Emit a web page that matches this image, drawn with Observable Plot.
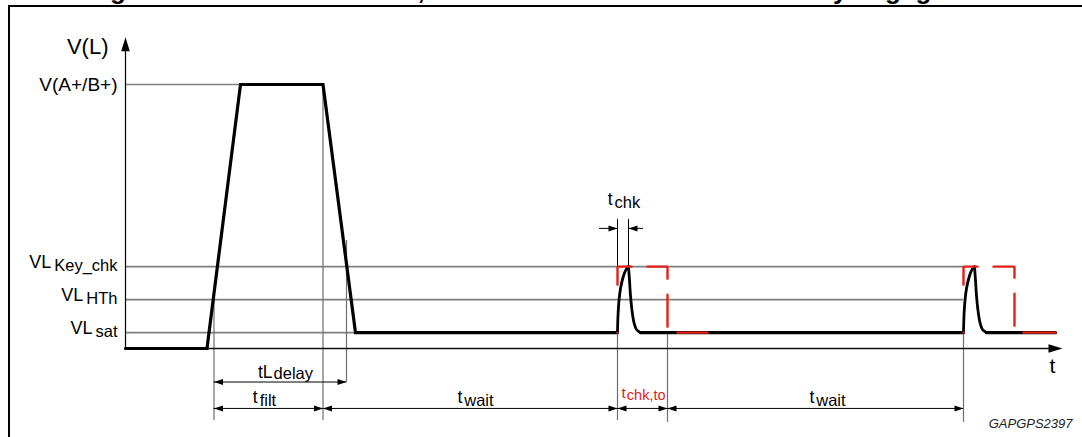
<!DOCTYPE html>
<html>
<head>
<meta charset="utf-8">
<script src="https://cdn.jsdelivr.net/npm/d3@7"></script>
<script src="https://cdn.jsdelivr.net/npm/@observablehq/plot@0.6"></script>
<style>
html, body { margin: 0; padding: 0; background: #fff; width: 1082px; height: 437px; overflow: hidden; }
#wrap { position: relative; width: 1082px; height: 437px; overflow: hidden; }
#title { position: absolute; left: 87px; top: -23px; font: bold 26px "Liberation Sans", Arial, sans-serif; line-height: 26px; white-space: nowrap; color: #000; }
#chart { position: absolute; left: 0; top: 0; }
#chart svg { display: block; }
#frame { position: absolute; left: 7.5px; top: 4.5px; width: 1200px; height: 1000px; border-left: 2.5px solid #000; border-top: 2.5px solid #000; pointer-events: none; }
</style>
</head>
<body>
<div id="wrap">
  <div id="title">Figure 14. L first activation, then L detection and check at key engagement</div>
  <div id="chart"></div>
  <div id="frame"></div>
</div>
<script>
// ---- data (time t in arbitrary units, voltage V in arbitrary units) ----
const levelNames  = ["V(A+/B+)", "VL|Key_chk", "VL|HTh", "VL|sat"];
const levelValues = [10, 3.1, 1.85, 0.6];
const levelEnds   = [19.75, 83.8, 83.8, 23.0];

// main waveform, piecewise linear, split in segments
const waveSeg = ["a", "a", "a", "a", "a", "a", "b", "b", "c", "c"];
const waveT   = [0, 8.15, 11.5, 19.75, 23.0, 49.2, 51.5, 83.8, 86.1, 93.0];
const waveV   = [0, 0, 10, 10, 0.6, 0.6, 0.6, 0.6, 0.6, 0.6];

// key-check pulses (rise = first 7 points, decay = last 7 points)
const pulse1T = [49.2, 49.25, 49.35, 49.5, 49.75, 50.0, 50.3, 50.4, 50.5, 50.65, 50.85, 51.1, 51.5];
const pulse2T = [83.8, 83.85, 83.95, 84.1, 84.35, 84.6, 84.9, 85.0, 85.1, 85.25, 85.45, 85.7, 86.1];
const pulseV  = [0.6, 1.25, 1.82, 2.27, 2.69, 2.95, 3.1, 2.58, 2.0, 1.44, 0.98, 0.72, 0.6];

// red dashed timeout envelope
const timeout1T = [49.2, 49.2, 54.2, 54.2, 58.2];
const timeout2T = [83.8, 83.8, 88.9, 88.9, 93.0];
const timeoutV  = [0.6, 3.1, 3.1, 0.6, 0.6];

// vertical marker lines
const markerT      = [8.85, 19.75, 22.1, 49.2, 54.2, 83.8];
const markerTop    = [1.85, 10, 4.09, 0.6, 0.6, 0.6];
const markerBottom = [-2.73, -2.73, -1.29, -2.73, -2.8, -2.8];

// t_chk extension lines
const chkExtT = [49.2, 50.3];
const chkExtV = [3.1, 4.89];

// dimension arrows
const dimNames  = ["tL|delay", "t|filt", "t|wait", "t|chk,to", "t|wait"];
const dimFrom   = [8.85, 8.85, 19.75, 49.2, 54.2];
const dimTo     = [22.1, 19.75, 49.2, 54.2, 83.8];
const dimRow    = [-1.27, -2.27, -2.27, -2.27, -2.27];
const dimLabelT = [16.0, 13.9, 35.0, 51.8, 70.2];
const dimLabelV = [-1.1, -2.05, -2.05, -1.89, -2.08];

// t_chk (inward arrows)
const chkName   = "t|chk";
const chkRow    = 4.55;
const chkFrom   = [47.4, 51.8];
const chkTo     = [49.2, 50.3];
const chkLabelT = 49.85;
const chkLabelV = 5.42;

// axes
const tAxisEnd = 93.7;
const vAxisEnd = 11.79;

// other labels
const noteText = ["V(L)", "t", "GAPGPS2397"];
const noteT    = [-1.7, 92.7, 94.7];
const noteV    = [11.17, -0.91, -3.03];
const levelLabelT = -0.8;

// ---- tables ----
const levels = levelNames.map((name, i) => ({name, v: levelValues[i], end: levelEnds[i]}));
const wave = waveT.map((t, i) => ({t, v: waveV[i], seg: waveSeg[i]}));
const pulses = [];
[[pulse1T, "p1"], [pulse2T, "p2"]].forEach(([T, id]) => {
  T.forEach((t, i) => {
    if (i <= 6) pulses.push({t, v: pulseV[i], id: id + "r"});
    if (i >= 6) pulses.push({t, v: pulseV[i], id: id + "d"});
  });
});
const timeouts = [
  ...timeout1T.map((t, i) => ({t, v: timeoutV[i], id: "a"})),
  ...timeout2T.map((t, i) => ({t, v: timeoutV[i], id: "b"}))
];
const markers = markerT.map((t, i) => ({t, top: markerTop[i], bottom: markerBottom[i]}));
const dims = dimNames.map((name, i) => ({name, from: dimFrom[i], to: dimTo[i], row: dimRow[i], lt: dimLabelT[i], lv: dimLabelV[i]}));
const chkLeaders = chkFrom.map((f, i) => ({from: f, to: chkTo[i], row: chkRow}));

const headsRight = [
  ...dims.map(d => ({t: d.to, v: d.row})),
  {t: chkTo[0], v: chkRow}
];
const headsLeft = [
  ...dims.map(d => ({t: d.from, v: d.row})),
  {t: chkTo[1], v: chkRow}
];

// arrowhead symbols (tip at origin)
const mk = (L, w, dir) => ({
  draw(ctx) {
    if (dir === "r") { ctx.moveTo(0, 0); ctx.lineTo(-L, -w); ctx.lineTo(-L, w); }
    if (dir === "l") { ctx.moveTo(0, 0); ctx.lineTo(L, -w); ctx.lineTo(L, w); }
    if (dir === "u") { ctx.moveTo(0, 0); ctx.lineTo(-w, L); ctx.lineTo(w, L); }
    ctx.closePath();
  }
});
const headR = mk(9, 3, "r"), headL = mk(9, 3, "l");
const bigR = mk(14, 4.3, "r"), bigU = mk(14, 4.3, "u");

const RED = "#e32119";
const GRAY = "#7f7f7f";
const FONT = "'Liberation Sans', Arial, Helvetica, sans-serif";

const chart = Plot.plot({
  width: 1082,
  height: 437,
  margin: 0,
  x: {domain: [0, 94], range: [125, 1065], axis: null},
  y: {domain: [0, 10], range: [348, 84], axis: null},
  style: {fontFamily: FONT, background: "transparent", overflow: "visible", color: "#000"},
  marks: [
    // level reference lines
    Plot.ruleY(levels, {y: "v", x1: 0, x2: "end", stroke: GRAY, strokeWidth: 1.7}),
    // vertical marker lines
    Plot.ruleX(markers, {x: "t", y1: "bottom", y2: "top", stroke: "#6e6e6e", strokeWidth: 1.2}),
    Plot.ruleX(chkExtT, {x: d => d, y1: chkExtV[0], y2: chkExtV[1], stroke: "#000", strokeWidth: 1}),
    // axes
    Plot.ruleX([0], {x: d => d, y1: 0, y2: vAxisEnd - 0.3, stroke: "#000", strokeWidth: 1.2}),
    Plot.ruleY([0], {y: d => d, x1: 0, x2: tAxisEnd - 0.5, stroke: "#111", strokeWidth: 1.3}),
    Plot.dot([{t: 0, v: vAxisEnd}], {x: "t", y: "v", symbol: bigU, fill: "#000", stroke: "none"}),
    Plot.dot([{t: tAxisEnd, v: 0}], {x: "t", y: "v", symbol: bigR, fill: "#000", stroke: "none"}),
    // dimension lines
    Plot.ruleY(dims, {y: "row", x1: "from", x2: "to", stroke: "#000", strokeWidth: 1}),
    Plot.ruleY(chkLeaders, {y: "row", x1: "from", x2: "to", stroke: "#000", strokeWidth: 1}),
    Plot.dot(headsRight, {x: "t", y: "v", symbol: headR, fill: "#000", stroke: "none"}),
    Plot.dot(headsLeft, {x: "t", y: "v", symbol: headL, fill: "#000", stroke: "none"}),
    // signal
    Plot.line(wave, {x: "t", y: "v", z: "seg", stroke: "#000", strokeWidth: 3.2, strokeLinejoin: "miter", strokeMiterlimit: 10}),
    Plot.line(pulses, {x: "t", y: "v", z: "id", curve: "catmull-rom", stroke: "#000", strokeWidth: 2.8}),
    // timeout envelope (red dashed)
    Plot.line(timeouts, {x: "t", y: "v", z: "id", stroke: RED, strokeWidth: 2.4, strokeLinejoin: "miter",
      strokeDasharray: "0,48,32,16,32,16,32,16,32,16"}),
    // labels
    Plot.text([levels[0]], {x: levelLabelT, y: "v", text: "name", textAnchor: "end", lineAnchor: "middle", fontSize: 19}),
    Plot.text(levels.slice(1), {x: levelLabelT, y: "v", text: "name", textAnchor: "end", lineAnchor: "bottom", dy: 1, fontSize: 18}),
    Plot.text(dims.filter(d => d.name !== "t|chk,to"), {x: "lt", y: "lv", text: "name", textAnchor: "middle", lineAnchor: "bottom", fontSize: 17.5}),
    Plot.text(dims.filter(d => d.name === "t|chk,to"), {x: "lt", y: "lv", text: "name", textAnchor: "middle", lineAnchor: "bottom", fontSize: 15.5, fill: RED}),
    Plot.text([chkName], {x: chkLabelT, y: chkLabelV, text: d => d, textAnchor: "middle", lineAnchor: "bottom", fontSize: 17.5}),
    Plot.text([0], {x: noteT[0], y: noteV[0], text: () => noteText[0], textAnchor: "end", lineAnchor: "bottom", fontSize: 22}),
    Plot.text([1], {x: noteT[1], y: noteV[1], text: () => noteText[1], textAnchor: "middle", lineAnchor: "bottom", fontSize: 21}),
    Plot.text([2], {x: noteT[2], y: noteV[2], text: () => noteText[2], textAnchor: "end", lineAnchor: "bottom", fontSize: 13, fontStyle: "italic", fill: "#222"})
  ]
});

// turn "main|sub" labels into main + subscript tspans
const NS = "http://www.w3.org/2000/svg";
const subStyle = s =>
  s === "t|chk,to" ? {size: 14.5, shift: 2, gap: 1} :
  s.startsWith("VL") ? {size: 16.5, shift: 3, gap: 3} :
  s.startsWith("tL") ? {size: 16.5, shift: 1, gap: 1} :
  {size: 16.5, shift: 3, gap: 2};
chart.querySelectorAll("text").forEach(el => {
  const s = el.textContent;
  if (!s.includes("|")) return;
  const [main, sub] = s.split("|");
  const st = subStyle(s);
  el.textContent = "";
  const a = document.createElementNS(NS, "tspan");
  a.textContent = main;
  const b = document.createElementNS(NS, "tspan");
  b.setAttribute("dx", st.gap);
  b.setAttribute("dy", st.shift);
  b.setAttribute("font-size", st.size);
  b.textContent = sub;
  el.append(a, b);
});

document.getElementById("chart").appendChild(chart);
</script>
</body>
</html>
